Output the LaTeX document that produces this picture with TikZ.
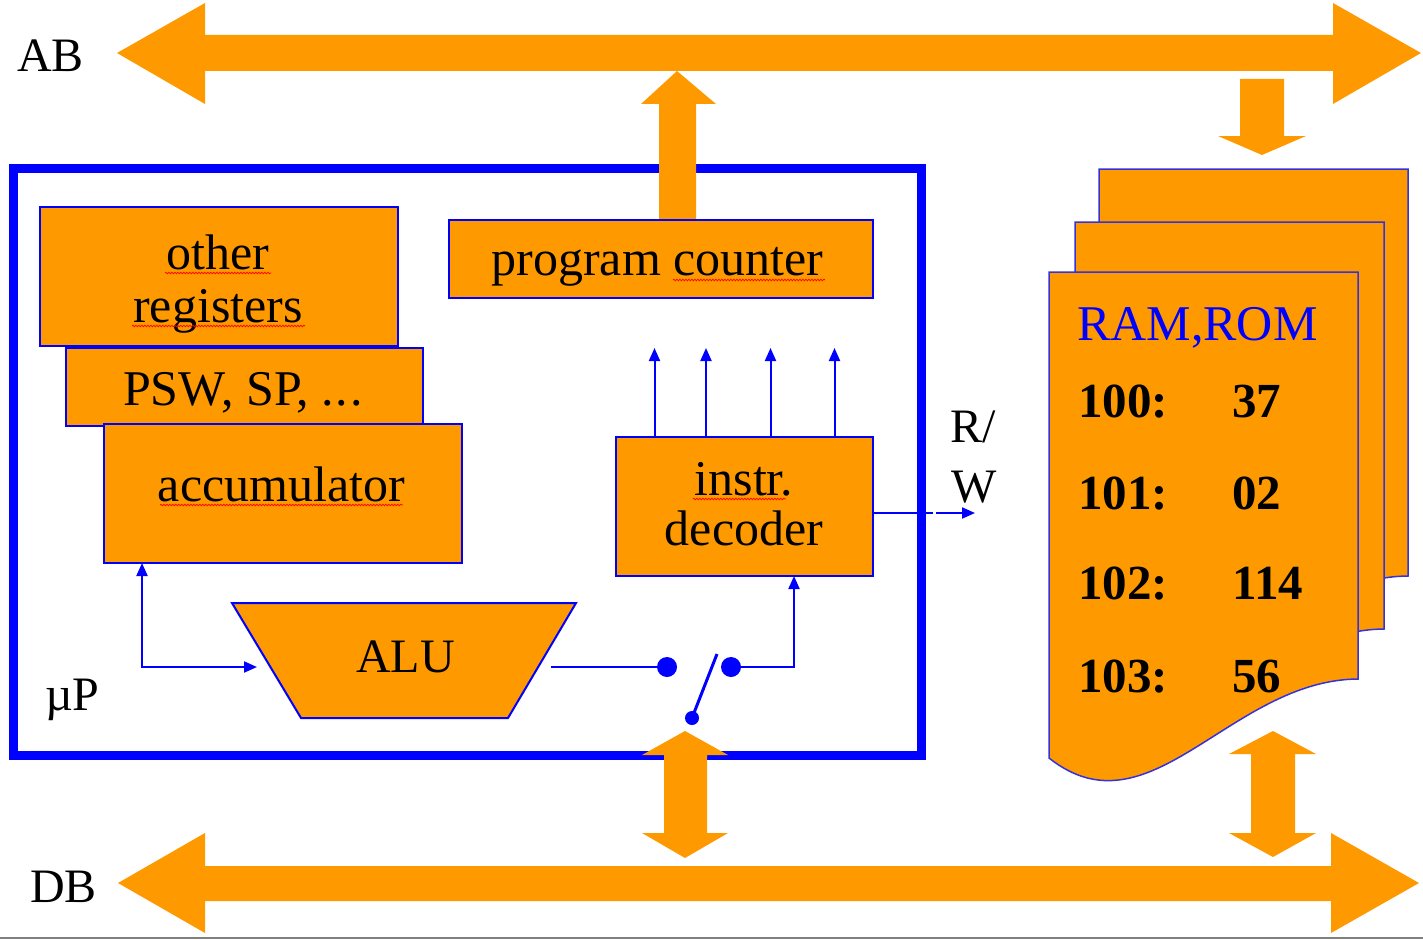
\documentclass[tikz,border=0pt]{standalone}
\usepackage{fontspec}
\setmainfont{Liberation Serif}
\usetikzlibrary{arrows.meta,decorations.pathmorphing}
\definecolor{orng}{HTML}{FF9900}
\definecolor{bblue}{HTML}{0000FF}
\definecolor{pageblue}{HTML}{3333DD}
\begin{document}
\begin{tikzpicture}[x=1pt,y=-1pt,
  box/.style={draw=bblue, line width=2pt, fill=orng, inner sep=0pt, outer sep=0pt, anchor=north west},
  bus/.style={fill=orng, draw=none},
  lbl/.style={font=\fontsize{50}{55}\selectfont, inner sep=0pt, anchor=base},
  tlbl/.style={font=\fontsize{48}{52}\selectfont, inner sep=0pt, anchor=base},
  numlbl/.style={font=\fontsize{49}{52}\selectfont\bfseries, inner sep=0pt, anchor=base west},
  barrow/.style={draw=bblue, line width=2pt, -{Triangle[length=13pt,width=11pt]}},
  bline/.style={draw=bblue, line width=2pt},
  squig/.style={draw=red, line width=0.7pt, decorate, decoration={snake, amplitude=0.8pt, segment length=3pt}},
  pics/memsheet/.style={code={
    \filldraw[fill=orng, draw=pageblue, line width=1.5pt] (0,0) -- (309,0) -- (309,407)
      .. controls (181,408) and (101,566) .. (0,486) -- cycle;}}
]
\useasboundingbox (0,0) rectangle (1423,939);
\fill[white] (0,0) rectangle (1423,939);

% address bus
\fill[bus] (117,53) -- (205,3) -- (205,35) -- (1333,35) -- (1333,3) -- (1421,53)
  -- (1333,104) -- (1333,71) -- (205,71) -- (205,104) -- cycle;
% data bus
\fill[bus] (118,883) -- (205,833) -- (205,866) -- (1331,866) -- (1331,833) -- (1419,883)
  -- (1331,933) -- (1331,901) -- (205,901) -- (205,933) -- cycle;

\node[tlbl] (ab) at (50.5,72) {AB};
\node[tlbl] (db) at (63.5,902) {DB};

% CPU frame
\draw[bblue, line width=9pt] (13.5,168) rectangle (921.5,755.5);
\node[tlbl, anchor=base west] (mup) at (45,710) {µP};

% bus arrows
\fill[bus] (677,71) -- (716,104) -- (696,104) -- (696,221) -- (659,221) -- (659,104) -- (641,104) -- cycle;
\fill[bus] (1240,79) -- (1284,79) -- (1284,136) -- (1306,136) -- (1262,155) -- (1218,136) -- (1240,136) -- cycle;
\fill[bus] (685,731) -- (728,755) -- (707,755) -- (707,833) -- (728,833) -- (685,858)
  -- (642,833) -- (664,833) -- (664,755) -- (642,755) -- cycle;
\fill[bus] (1273,731) -- (1316,754) -- (1295,754) -- (1295,833) -- (1316,833) -- (1273,857)
  -- (1229,833) -- (1251,833) -- (1251,754) -- (1229,754) -- cycle;

% registers
\node[box, minimum width=358pt, minimum height=139pt] (oreg) at (40,207) {};
\node[box, minimum width=357pt, minimum height=78pt] (psw) at (66,348) {};
\node[box, minimum width=358pt, minimum height=139pt] (acc) at (104,424) {};
\node[lbl] (t_other) at (218,269) {other};
\node[lbl] (t_reg) at (218,322) {registers};
\node[tlbl, font=\fontsize{50}{55}\selectfont] (t_psw) at (243,405) {PSW, SP, .\kern2pt.\kern2pt.};
\node[lbl] (t_acc) at (281.5,501) {accumulator};

% program counter
\node[box, minimum width=424pt, minimum height=78pt] (pc) at (449,220) {};
\node[lbl] (t_pc) at (657.5,275) {program counter};

% decoder
\node[box, minimum width=257pt, minimum height=139pt] (dec) at (616,437) {};
\node[lbl] (t_instr) at (744,495) {instr.};
\node[lbl] (t_dec) at (744,545) {decoder};

% spell-check squiggles
\draw[squig] (165,273) -- (271,273);
\draw[squig] (132,326) -- (305,326);
\draw[squig] (160,505) -- (403,505);
\draw[squig] (673,280) -- (825,280);
\draw[squig] (693,499) -- (786,499);

% decoder control outputs
\foreach \xx [count=\i] in {654.5,706,770.5,834.5} {
  \coordinate (cb\i) at (\xx,437);
  \coordinate (ct\i) at (\xx,348);
  \draw[barrow] (cb\i) -- (ct\i);
}

% R/W
\coordinate (decout) at (873,513);
\coordinate (rwend) at (975,513);
\draw[barrow] (decout) -- (rwend);
\draw[white, line width=3pt] (933,513) -- (935.5,513);
\node[tlbl, anchor=base west] (t_r) at (950,442) {R/};
\node[tlbl, anchor=base west] (t_w) at (951,502) {W};

% ALU
\filldraw[fill=orng, draw=bblue, line width=2pt] (232,603) -- (576,603) -- (508,718) -- (301,718) -- cycle;
\node[tlbl] (t_alu) at (405.5,672) {ALU};

% accumulator <-> ALU
\coordinate (accin) at (142,563);
\coordinate (aluin) at (257,667);
\draw[draw=bblue, line width=2pt, {Triangle[length=13pt,width=11pt]}-{Triangle[length=13pt,width=11pt]}] (accin) |- (aluin);

% ALU output and switch
\coordinate (aluout) at (551,667);
\node[circle, fill=bblue, inner sep=0pt, minimum size=20pt] (sw1) at (667,667) {};
\node[circle, fill=bblue, inner sep=0pt, minimum size=20pt] (sw2) at (731,667) {};
\node[circle, fill=bblue, inner sep=0pt, minimum size=14pt] (sw3) at (692,718) {};
\coordinate (levtop) at (717,654);
\draw[bline] (aluout) -- (sw1.center);
\draw[bline, line width=3pt] (sw3.center) -- (levtop);
\coordinate (decin) at (794,576);
\draw[barrow] (sw2.center) -| (decin);

% memory pages
\pic at (1099,169) {memsheet};
\pic at (1075,222) {memsheet};
\pic at (1049,272) {memsheet};
\node[font=\fontsize{50}{55}\selectfont, text=bblue, inner sep=0pt, anchor=base west] (t_mem) at (1077,340) {RAM,ROM};
\node[numlbl] (a100) at (1078,417) {100:};
\node[numlbl] (v100) at (1232,417) {37};
\node[numlbl] (a101) at (1078,509) {101:};
\node[numlbl] (v101) at (1232,509) {02};
\node[numlbl] (a102) at (1078,599) {102:};
\node[numlbl] (v102) at (1232,599) {114};
\node[numlbl] (a103) at (1078,692) {103:};
\node[numlbl] (v103) at (1232,692) {56};

% bottom edge line
\draw[gray, line width=1.2pt] (0,938) -- (1423,938);
\end{tikzpicture}
\end{document}
